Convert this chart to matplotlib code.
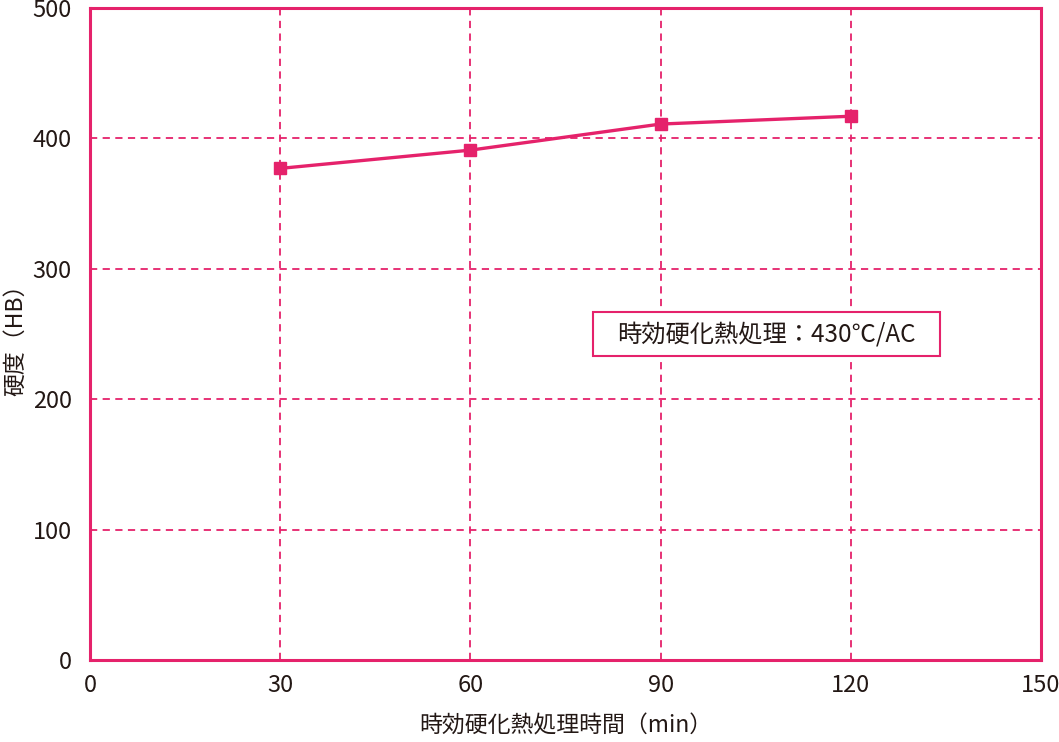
import matplotlib
matplotlib.use("Agg")
import matplotlib.pyplot as plt
from matplotlib.patches import Rectangle

plt.rcParams['font.family'] = ['Noto Sans CJK JP', 'DejaVu Sans']

# data
times = [30, 60, 90, 120]
hardness = [377, 391, 411, 417]
xticks = [0, 30, 60, 90, 120, 150]
yticks = [0, 100, 200, 300, 400, 500]

pink = "#E5226B"
textc = "#231815"

fig = plt.figure(figsize=(10.59, 7.42), dpi=100)
ax = fig.add_axes([90 / 1059, 1 - 660 / 742, (1041 - 90) / 1059, (660 - 8) / 742])

# dashed grid lines
for x in xticks[1:-1]:
    ax.axvline(x, color=pink, linewidth=1.3, linestyle=(0, (4, 3)), zorder=1)
for y in yticks[1:-1]:
    ax.axhline(y, color=pink, linewidth=1.3, linestyle=(0, (4, 3)), zorder=1)

ax.plot(times, hardness, color=pink, linewidth=2.4, marker="s", markersize=9, zorder=3)

ax.set_xlim(0, 150)
ax.set_ylim(0, 500)
ax.set_xticks(xticks)
ax.set_yticks(yticks)
ax.tick_params(length=0, labelsize=17, labelcolor=textc)
ax.tick_params(axis="y", pad=13)
ax.tick_params(axis="x", pad=10)

for s in ax.spines.values():
    s.set_color(pink)
    s.set_linewidth(2.2)

ax.set_xlabel("時効硬化熱処理時間（min）", fontsize=16.5, color=textc)
ax.xaxis.set_label_coords(0.5, -0.084)
ax.set_ylabel("硬度（HB）", fontsize=16.5, color=textc)
ax.yaxis.set_label_coords(-0.066, 0.5)

# condition box
ax.add_patch(Rectangle((79.3, 233), 54.8, 34, facecolor="white", edgecolor=pink,
                       linewidth=1.5, zorder=4))
ax.text(106.7, 250, "時効硬化熱処理：430℃/AC", fontsize=17.5, color=textc,
        ha="center", va="center", zorder=5)

plt.savefig("out.png", dpi=100)
